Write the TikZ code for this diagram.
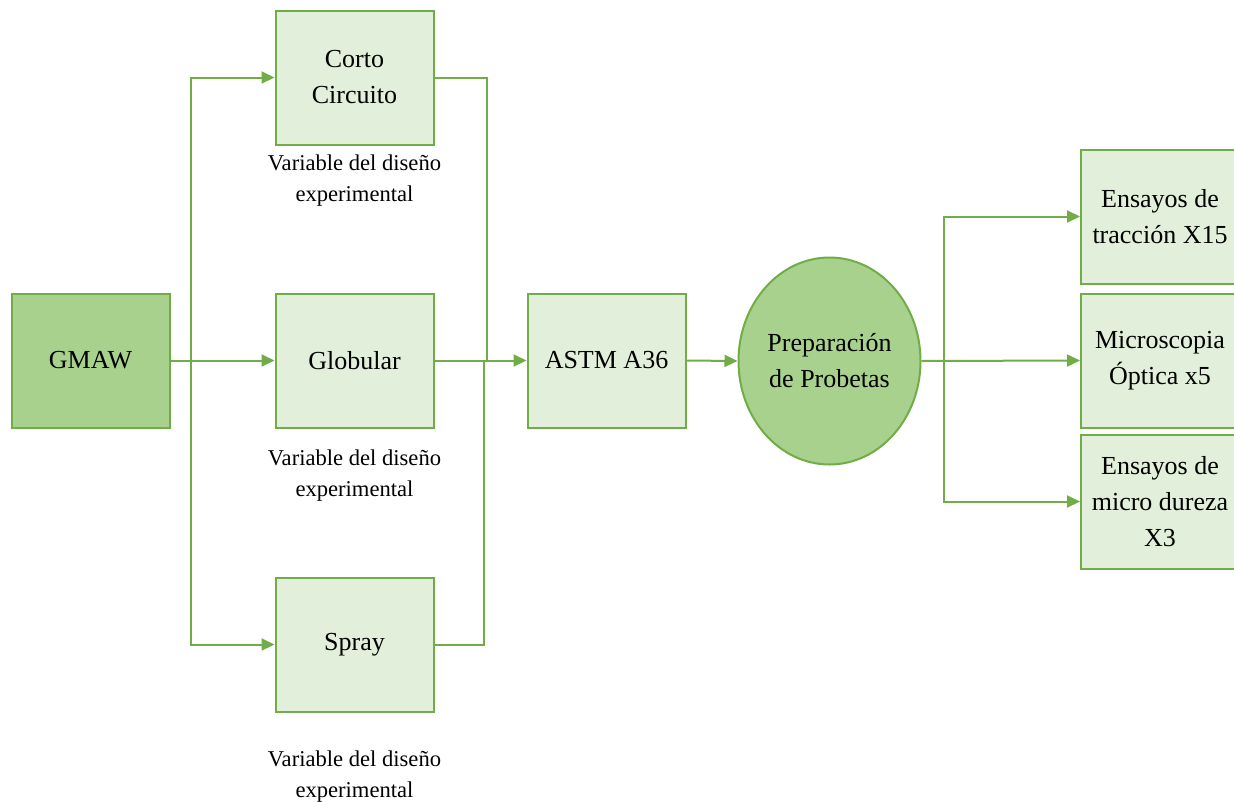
\documentclass[tikz,border=0pt]{standalone}
\usepackage{fontspec}
\setmainfont{Liberation Serif}
\usetikzlibrary{arrows.meta,shapes.geometric}
\definecolor{gborder}{HTML}{70AD47}
\definecolor{gdark}{HTML}{A9D18E}
\definecolor{glight}{HTML}{E2EFDA}
\tikzset{
  box/.style={draw=gborder,line width=2pt,fill=glight,minimum width=158pt,minimum height=134pt,inner sep=0pt,align=center,font=\fontsize{26}{36}\selectfont},
  darkbox/.style={box,fill=gdark},
  oval/.style={draw=gborder,line width=2pt,fill=gdark,ellipse,minimum width=182pt,minimum height=207pt,inner sep=0pt,align=center,font=\fontsize{26}{36}\selectfont},
  lab/.style={align=center,inner sep=0pt,font=\fontsize{22.6}{31}\selectfont},
  conn/.style={draw=gborder,line width=2pt},
  arr/.style={conn,-{Triangle[length=13pt,width=12pt]}}
}
\begin{document}
\begin{tikzpicture}[x=1pt,y=-1pt]
\useasboundingbox (0,0) rectangle (1234,801);
\node[darkbox] (gmaw) at (90.5,360.5) {GMAW};
\node[box] (corto) at (354.5,77.5) {Corto\\Circuito};
\node[box] (glob) at (354.5,360.5) {Globular};
\node[box] (spray) at (354.5,644.5) {Spray};
\node[box] (astm) at (606.5,360.5) {ASTM A36};
\node[oval] (prep) at (829.5,361) {Preparación\\de Probetas};
\node[box] (trac) at (1160,216.5) {Ensayos de\\tracción X15};
\node[box] (micro) at (1160,360.5) {Microscopia\\Óptica x5};
\node[box] (dur) at (1160,501.5) {Ensayos de\\micro dureza\\X3};
\node[lab] (lab1) at (354.5,181) {Variable del diseño\\experimental};
\node[lab] (lab2) at (354.5,476) {Variable del diseño\\experimental};
\node[lab] (lab3) at (354.5,777) {Variable del diseño\\experimental};
\coordinate (b1) at (191,360.5);
\coordinate (m1) at (487,360.5);
\coordinate (m2) at (484,360.5);
\coordinate (b2) at (944,360.5);
\draw[arr] (gmaw.east) -- (glob.west);
\draw[arr] (b1) |- (corto.west);
\draw[arr] (b1) |- (spray.west);
\draw[conn] (corto.east) -| (m1);
\draw[conn] (spray.east) -| (m2);
\draw[arr] (glob.east) -- (astm.west);
\draw[arr] (astm.east) -- (prep.west);
\draw[arr] (prep.east) -- (micro.west);
\draw[arr] (b2) |- (trac.west);
\draw[arr] (b2) |- (dur.west);
\end{tikzpicture}
\end{document}
